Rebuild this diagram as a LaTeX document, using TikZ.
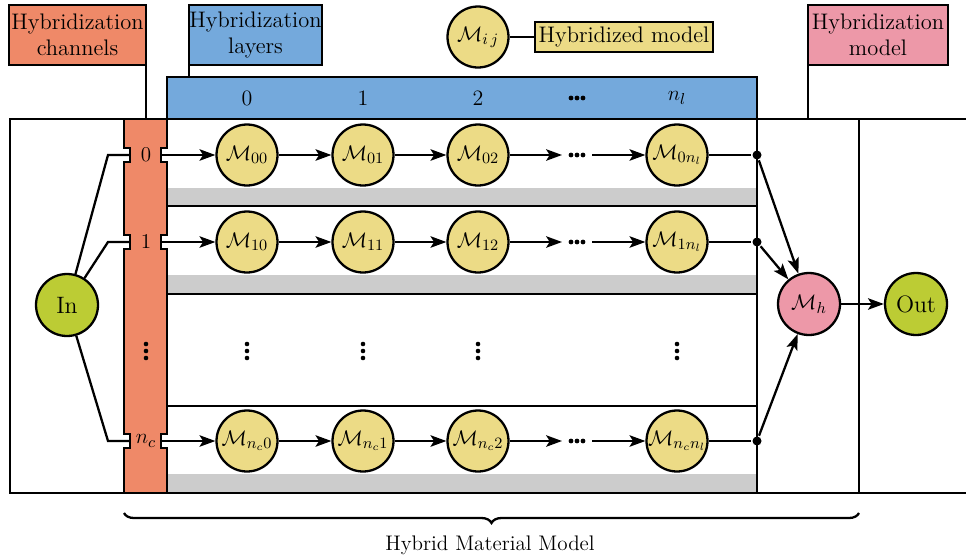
\documentclass[tikz,border=0pt]{standalone}
\usetikzlibrary{arrows.meta,decorations.pathreplacing}
\definecolor{corange}{RGB}{239,137,104}
\definecolor{cblue}{RGB}{116,169,220}
\definecolor{cyellow}{RGB}{236,219,134}
\definecolor{cpink}{RGB}{237,152,168}
\definecolor{cgreen}{RGB}{188,204,52}
\definecolor{cgray}{RGB}{204,204,204}
\tikzset{
  every node/.style={font=\fontsize{12.5}{14.5}\selectfont},
  labbox/.style={draw, line width=1.3pt, align=center, minimum height=1.2cm, inner sep=0pt, font=\fontsize{12.8}{14.5}\selectfont},
  mnode/.style={circle, draw, line width=1.3pt, fill=cyellow, minimum size=1.22cm, inner sep=0pt},
  ionode/.style={circle, draw, line width=1.3pt, fill=cgreen, minimum size=1.24cm, inner sep=0pt, font=\fontsize{13.5}{15}\selectfont},
  hnode/.style={circle, draw, line width=1.3pt, fill=cpink, minimum size=1.24cm, inner sep=0pt},
  dotsnode/.style={minimum width=0.6cm, minimum height=0.2cm, inner sep=0pt, outer sep=0pt},
  vdotsnode/.style={minimum width=0.2cm, minimum height=0.4cm, inner sep=0pt, outer sep=0pt},
  arr/.style={-{Stealth[length=9pt,width=6.5pt,inset=2pt]}},
  junc/.style={circle, fill=black, inner sep=0pt, minimum size=0.18cm},
}
\begin{document}
\begin{tikzpicture}[x=0.02cm,y=-0.02cm,line width=1.3pt]
\useasboundingbox (0,0) rectangle (966,558);
% gray bands
\fill[cgray] (167,188) rectangle (757,206);
\fill[cgray] (167,275) rectangle (757,294);
\fill[cgray] (167,474) rectangle (757,493);
% outer frame
\draw (966,119) -- (10,119) -- (10,493) -- (966,493);
% row lines
\draw (167,206) -- (757,206);
\draw (167,294) -- (757,294);
\draw (167,406) -- (757,406);
% blue header
\draw[fill=cblue] (167,77) rectangle (757,119);
\draw (757,119) -- (757,493);
\draw (859,119) -- (859,493);
% channel bar with notches
\draw[fill=corange] (124,119)
  -- (124,148) -- (130,148) -- (130,162) -- (124,162)
  -- (124,235) -- (130,235) -- (130,249) -- (124,249)
  -- (124,434) -- (130,434) -- (130,448) -- (124,448)
  -- (124,493) -- (167,493)
  -- (167,448) -- (161,448) -- (161,434) -- (167,434)
  -- (167,249) -- (161,249) -- (161,235) -- (167,235)
  -- (167,162) -- (161,162) -- (161,148) -- (167,148)
  -- (167,119) -- cycle;
% label boxes
\node[labbox, fill=corange, minimum width=2.74cm] (chlab) at (77.5,35) {Hybridization\\channels};
\node[labbox, fill=cblue, minimum width=2.66cm] (laylab) at (255.5,35) {Hybridization\\layers};
\node[labbox, fill=cpink, minimum width=2.8cm] (modlab) at (878,35) {Hybridization\\model};
\coordinate (chtop) at (146,119);
\coordinate (laytop) at (189,77);
\coordinate (modtop) at (808,119);
\draw (chtop |- chlab.south) -- (chtop);
\draw (laytop |- laylab.south) -- (laytop);
\draw (modtop |- modlab.south) -- (modtop);
% legend
\node[mnode] (leg) at (478,37) {$\mathcal{M}_{i\,j}$};
\node[draw, line width=1.3pt, fill=cyellow, minimum width=3.56cm, minimum height=0.6cm, inner sep=0pt, font=\fontsize{12.8}{14.5}\selectfont] (legbox) at (624,37) {Hybridized model};
\draw (leg) -- (legbox);
% header labels
\node (h0) at (247,98) {0};
\node (h1) at (363,98) {1};
\node (h2) at (478,98) {2};
\node[dotsnode] (hd) at (577,98) {};
\foreach \dx in {-6,0,6} \fill ([xshift=\dx*0.02cm]hd.center) circle[radius=0.048cm];
\node (hl) at (677,98) {$n_l$};
% In / Out / Mh
\node[ionode] (In) at (67,305) {In};
\node[hnode] (Mh) at (809,304) {$\mathcal{M}_h$};
\node[ionode] (Out) at (916,304) {Out};
\draw[arr] (Mh) -- (Out);
% rows
\foreach \r/\y/\s in {0/155/0, 1/242/1, c/441/n_c} {
  \node (ch\r) at (146,\y) {$\s$};
  \coordinate (nl\r) at (130,\y);
  \coordinate (nr\r) at (161,\y);
  \coordinate (k\r) at (108,\y);
  \node[mnode] (m\r0) at (247,\y) {$\mathcal{M}_{\s0}$};
  \node[mnode] (m\r1) at (363,\y) {$\mathcal{M}_{\s1}$};
  \node[mnode] (m\r2) at (478,\y) {$\mathcal{M}_{\s2}$};
  \node[dotsnode] (d\r) at (577,\y) {};
  \foreach \dx in {-6,0,6} \fill ([xshift=\dx*0.02cm]d\r.center) circle[radius=0.048cm];
  \node[mnode] (m\r l) at (677,\y) {$\mathcal{M}_{\s n_l}$};
  \node[junc] (j\r) at (757,\y) {};
  \draw (In) -- (k\r) -- (nl\r);
  \draw[arr] (nr\r) -- (m\r0);
  \draw[arr] (m\r0) -- (m\r1);
  \draw[arr] (m\r1) -- (m\r2);
  \draw[arr] (m\r2) -- (d\r);
  \draw[arr] (d\r) -- (m\r l);
  \draw (m\r l) -- (j\r);
  \draw[arr] (j\r) -- (Mh);
}
% vertical dots
\foreach \n/\x in {vc/146, v0/247, v1/363, v2/478, vl/677} {
  \node[vdotsnode] (\n) at (\x,351) {};
  \foreach \dy in {-7,0,7} \fill ([yshift=\dy*0.02cm]\n.center) circle[radius=0.046cm];
}
% brace
\coordinate (bl) at (124,513);
\coordinate (br) at (859,513);
\draw[decorate, decoration={brace, mirror, amplitude=0.2cm}] (bl) -- (br);
\node[font=\fontsize{12}{14}\selectfont] (hmm) at (490,545) {Hybrid Material Model};
\end{tikzpicture}
\end{document}
